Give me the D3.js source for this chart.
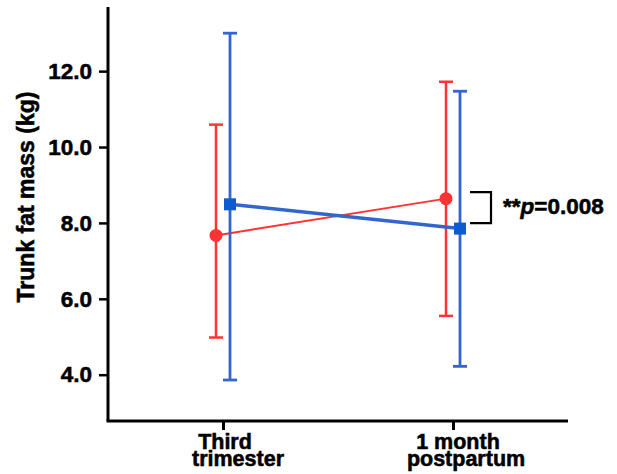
<!DOCTYPE html>
<html>
<head>
<meta charset="utf-8">
<script src="https://cdn.jsdelivr.net/npm/d3@7"></script>
<style>
  html, body { margin: 0; padding: 0; background: #fff; }
  svg { display: block; font-family: "Liberation Sans", Arial, sans-serif; }
</style>
</head>
<body>
<svg id="chart" width="617" height="474"></svg>
<script>
// ---- data ----
const categories = ["Third trimester", "1 month postpartum"];
const categoryLines = [["Third", "trimester"], ["1 month", "postpartum"]];
const redMean = [7.67, 8.64];
const redUpper = [10.59, 11.72];
const redLower = [4.98, 5.55];
const blueMean = [8.49, 7.85];
const blueUpper = [13.0, 11.47];
const blueLower = [3.86, 4.22];
const yTicks = [4, 6, 8, 10, 12];
const yTitle = "Trunk fat mass (kg)";
const pLabelStars = "**";
const pLabelP = "p";
const pLabelRest = "=0.008";

// ---- layout ----
const svg = d3.select("#chart");
const x = d3.scalePoint().domain(categories).range([108, 568]).padding(0.5);
const y = d3.scaleLinear().domain([2.78, 13.69]).range([421, 7]);

const RED = "#ff3333", BLUE = "#3366cc", BLUE_MARK = "#0d5bd1";
const TXT_STROKE = 0.55;

const series = [
  { mean: redMean, up: redUpper, lo: redLower, color: RED, dx: -7, lw: 2, ew: 2.5, marker: "circle" },
  { mean: blueMean, up: blueUpper, lo: blueLower, color: BLUE, dx: 7, lw: 3.5, ew: 2.8, marker: "square" }
];

function boldText(sel, size) {
  return sel.attr("font-size", size).attr("font-weight", "bold").attr("fill", "#000")
    .attr("stroke", "#000").attr("stroke-width", TXT_STROKE)
    .attr("font-family", "Liberation Sans, Arial, sans-serif");
}

// axes
const yAxis = d3.axisLeft(y).tickValues(yTicks).tickFormat(d3.format(".1f")).tickSize(9).tickPadding(7);
const gy = svg.append("g").attr("transform", "translate(108,0)").call(yAxis);
gy.select(".domain").attr("d", `M0,${y.range()[1]}V${y.range()[0]}`).attr("stroke", "#000").attr("stroke-width", 3);
gy.selectAll(".tick line").attr("stroke", "#000").attr("stroke-width", 2.5);
boldText(gy.selectAll(".tick text"), 22.5);

const xAxis = d3.axisBottom(x).tickSize(9).tickFormat("");
const gx = svg.append("g").attr("transform", "translate(0,421)").call(xAxis);
gx.select(".domain").attr("d", `M${x.range()[0] - 1.5},0H${x.range()[1]}`).attr("stroke", "#000").attr("stroke-width", 3);
gx.selectAll(".tick line").attr("stroke", "#000").attr("stroke-width", 3);

// category labels (two lines each)
const labelShift = [[2, 15], [5, 13]];
categories.forEach((c, i) => {
  categoryLines[i].forEach((line, j) => {
    boldText(svg.append("text"), 21.5)
      .attr("x", x(c) + labelShift[i][j])
      .attr("y", 449 + j * 17)
      .attr("text-anchor", "middle")
      .text(line);
  });
});

// y title
boldText(svg.append("text"), 23)
  .attr("transform", `translate(34,197) rotate(-90)`)
  .attr("text-anchor", "middle")
  .text(yTitle);

// series
series.forEach(s => {
  const g = svg.append("g");
  const px = i => x(categories[i]) + s.dx;
  // error bars
  categories.forEach((c, i) => {
    g.append("line").attr("x1", px(i)).attr("x2", px(i)).attr("y1", y(s.up[i])).attr("y2", y(s.lo[i]))
      .attr("stroke", s.color).attr("stroke-width", s.ew);
    [s.up[i], s.lo[i]].forEach(v => {
      g.append("line").attr("x1", px(i) - 7).attr("x2", px(i) + 7).attr("y1", y(v)).attr("y2", y(v))
        .attr("stroke", s.color).attr("stroke-width", s.ew);
    });
  });
  // connecting line
  g.append("path")
    .attr("d", d3.line().x((d, i) => px(i)).y(d => y(d))(s.mean))
    .attr("fill", "none").attr("stroke", s.color).attr("stroke-width", s.lw);
  // markers
  s.mean.forEach((v, i) => {
    if (s.marker === "circle") {
      g.append("circle").attr("cx", px(i)).attr("cy", y(v)).attr("r", 6.5).attr("fill", s.color);
    } else {
      g.append("rect").attr("x", px(i) - 6).attr("y", y(v) - 6).attr("width", 12).attr("height", 12).attr("fill", BLUE_MARK);
    }
  });
});

// significance bracket
const bx0 = 470, bx1 = 491;
const by0 = y(redMean[1]) - 6.5, by1 = y(blueMean[1]) - 5.5;
svg.append("path")
  .attr("d", `M${bx0},${by0}H${bx1}V${by1}H${bx0}`)
  .attr("fill", "none").attr("stroke", "#000").attr("stroke-width", 2.2);

const pt = boldText(svg.append("text"), 22.5).attr("x", 503).attr("y", 214);
pt.append("tspan").text(pLabelStars);
pt.append("tspan").attr("font-style", "italic").text(pLabelP);
pt.append("tspan").text(pLabelRest);
</script>
</body>
</html>
